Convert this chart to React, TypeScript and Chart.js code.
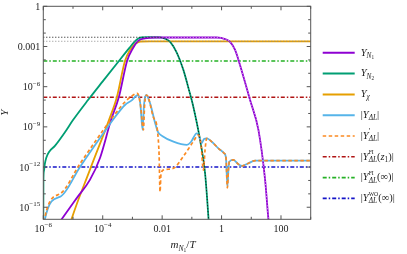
import React, { useEffect, useRef } from 'react';
import { Chart, registerables } from 'chart.js';
Chart.register(...registerables);

// ---------- data ----------
const xN2 = [1.0e-6, 1.01e-6, 1.05e-6, 1.12e-6, 1.26e-6, 1.58e-6, 2.5e-6, 5.0e-6, 1e-5, 3.2e-5, 1e-4, 3.5e-4, 7.9e-4, 1.23e-3, 1.58e-3, 2.0e-3, 3.2e-3, 8.5e-3, 0.0126, 0.0186, 0.0316, 0.0518, 0.079, 0.112, 0.189, 0.278, 0.36, 0.38];
const yN2 = [1e-17, 1e-13, 5.0e-13, 1.6e-12, 5.0e-12, 1.4e-11, 4.0e-11, 3.2e-10, 3.2e-9, 1e-7, 2.5e-6, 8.3e-5, 7.9e-4, 2.5e-3, 4.0e-3, 4.7e-3, 4.9e-3, 4.8e-3, 3.8e-3, 2.2e-3, 3.2e-4, 1.8e-5, 6.3e-7, 3.2e-8, 1.05e-10, 3.6e-13, 2.0e-16, 3.2e-17];

const xNeq = [1e-6, 3.2e-3, 8.5e-3, 0.0126, 0.0186, 0.0316, 0.0518, 0.079, 0.112, 0.189, 0.278, 0.36, 0.38];
const yNeq = [4.9e-3, 4.9e-3, 4.8e-3, 3.8e-3, 2.2e-3, 3.2e-4, 1.8e-5, 6.3e-7, 3.2e-8, 1.05e-10, 3.6e-13, 2.0e-16, 3.2e-17];

const xN1 = [3.55e-6, 4.2e-6, 1.45e-5, 3.7e-5, 8.1e-5, 1.9e-4, 3.5e-4, 6.6e-4, 1.05e-3, 1.55e-3, 2.6e-3, 5.8e-3, 0.19, 0.69, 1.32, 1.93, 2.85, 4.17, 9.1, 17.4, 29.2, 37.7, 39.8];
const yN1 = [7.9e-17, 1.35e-16, 6.2e-15, 1.1e-13, 4.8e-12, 3.2e-9, 1.7e-7, 8.3e-5, 7.8e-4, 2.6e-3, 4.0e-3, 4.7e-3, 4.7e-3, 4.7e-3, 3.6e-3, 2.2e-3, 5.5e-4, 4.2e-5, 1.0e-7, 5.9e-10, 1.1e-13, 1.35e-16, 5e-17];

const xN1eq = [2.6e-3, 0.19, 0.69, 1.32, 1.93, 2.85, 4.17, 9.1, 17.4, 29.2, 37.7, 39.8];
const yN1eq = [4.7e-3, 4.7e-3, 4.7e-3, 3.6e-3, 2.2e-3, 5.5e-4, 4.2e-5, 1.0e-7, 5.9e-10, 1.1e-13, 1.35e-16, 5e-17];

const xChi = [7.9e-6, 9.0e-6, 3.7e-5, 1.62e-4, 3.0e-4, 5.6e-4, 8.3e-4, 1.23e-3, 1.82e-3, 3.9e-3, 1000];
const yChi = [4.8e-17, 1.35e-16, 6.2e-13, 3.2e-9, 1.7e-7, 8.3e-5, 5.5e-4, 1.55e-3, 2.35e-3, 2.45e-3, 2.45e-3];

const xChiEq = [1e-6, 1000];
const yChiEq = [2.45e-3, 2.45e-3];

const xDL = [1.1e-6, 1.14e-6, 3.6e-6, 1.74e-5, 1.05e-4, 2.6e-4, 5.6e-4, 9.7e-4, 1.32e-3, 1.58e-3, 1.86e-3, 2.2e-3, 2.45e-3, 2.9e-3, 3.9e-3, 5.8e-3, 7.2e-3, 0.01, 0.024, 0.068, 0.093, 0.146, 0.174, 0.214, 0.257, 0.316, 0.48, 0.78, 1.22, 1.41, 1.57, 1.7, 1.82, 2.5, 3.6, 4.9, 7.2, 13.5, 29.2, 1000];
const yDL = [1e-17, 1.35e-16, 5.9e-15, 1.07e-12, 3.3e-10, 5.5e-9, 4.3e-8, 1.0e-7, 2.0e-7, 2.4e-7, 4.3e-8, 5.9e-10, 4.3e-8, 2.4e-7, 6.0e-8, 1.95e-9, 4.2e-10, 2.1e-10, 7.9e-11, 4.5e-11, 7.4e-11, 3.3e-10, 2.1e-10, 6.0e-11, 1.26e-10, 1.4e-10, 7.4e-11, 2.5e-11, 1.07e-11, 4.8e-12, 3.5e-14, 6.0e-13, 2.5e-12, 3.4e-12, 1.7e-12, 1.2e-12, 1.7e-12, 3.0e-12, 3.0e-12, 3.0e-12];

const xDLp = [1.05e-6, 1.1e-6, 3.6e-6, 1.74e-5, 1.05e-4, 2.6e-4, 5.6e-4, 9.5e-4, 1.48e-3, 1.86e-3, 2.34e-3, 2.57e-3, 3.0e-3, 5.0e-3, 6.9e-3, 7.9e-3, 8.5e-3, 9.1e-3, 0.011, 0.024, 0.051, 0.112, 0.166, 0.204, 0.245, 0.278, 0.316, 0.48, 0.78, 1.22, 1.41, 1.57, 1.7, 1.82, 2.5, 3.6, 4.9, 7.2, 13.5, 1000];
const yDLp = [1e-17, 1.35e-16, 9.8e-15, 1.86e-12, 5.9e-10, 9.1e-9, 7.2e-8, 2.0e-7, 3.2e-7, 4.3e-8, 5.9e-10, 4.3e-8, 2.4e-7, 5.8e-9, 5.9e-10, 7.9e-12, 1.45e-14, 2.6e-13, 6.0e-13, 8.1e-13, 6.0e-12, 7.9e-11, 2.5e-10, 4.5e-11, 6.0e-13, 1.9e-11, 1.4e-10, 7.4e-11, 2.5e-11, 1.07e-11, 4.8e-12, 2.8e-14, 6.0e-13, 2.5e-12, 3.4e-12, 1.7e-12, 1.2e-12, 1.7e-12, 3.0e-12, 3.0e-12];

const xSpan = [1e-6, 1e3];
const yFIz1 = [1.6e-7, 1.6e-7];
const yFIinf = [8.3e-5, 8.3e-5];
const yWO = [1.0e-12, 1.0e-12];

const xTickExps = [-6, -5, -4, -3, -2, -1, 0, 1, 2, 3];
const xTickLabels: Record<number, string[]> = { '-6': ['10', '−6'], '-4': ['10', '−4'], '-2': ['0.01'], '0': ['1'], '2': ['100'] } as any;
const yTickExps = [-15, -14, -13, -12, -11, -10, -9, -8, -7, -6, -5, -4, -3, -2, -1, 0];
const yTickLabels: Record<number, string[]> = { '0': ['1'], '-3': ['0.001'], '-6': ['10', '−6'], '-9': ['10', '−9'], '-12': ['10', '−12'], '-15': ['10', '−15'] } as any;

// ---------- styles ----------
const SERIF = '"Liberation Serif", "Times New Roman", "DejaVu Serif", serif';
const PURPLE = '#8e00d2';
const GREEN = '#009e73';
const ORANGE = '#e69f00';
const SKY = '#56b4e9';
const DORANGE = '#fb8a22';
const RED = '#b01414';
const LGREEN = '#25b125';
const BLUE = '#1414c8';
const DASHDOT = [4, 2, 1.5, 2];

type Seg = { t: string; it?: boolean; sc?: number; dy?: number; g?: boolean; rw?: boolean };

function drawRich(ctx: CanvasRenderingContext2D, segs: Seg[], x0: number, y: number, size: number, align: 'left' | 'right' | 'center') {
  const fontOf = (s: Seg) => `${s.it ? 'italic ' : ''}${size * (s.sc ?? 1)}px ${SERIF}`;
  let x = 0, gStart = 0, gEnd = 0;
  const out: { s: Seg; x: number }[] = [];
  for (const s of segs) {
    if (s.g) { gStart = x; }
    if (s.rw) { gEnd = x; x = gStart; }
    ctx.font = fontOf(s);
    out.push({ s, x });
    x += ctx.measureText(s.t).width;
    if (s.rw) x = Math.max(x, gEnd);
  }
  const w = x;
  const start = align === 'left' ? x0 : align === 'right' ? x0 - w : x0 - w / 2;
  ctx.textBaseline = 'middle';
  ctx.textAlign = 'left';
  for (const o of out) {
    ctx.font = fontOf(o.s);
    ctx.fillText(o.s.t, start + o.x, y + (o.s.dy ?? 0) * size);
  }
}

const SUB = { sc: 0.7, dy: 0.3 };
const SUP = { sc: 0.7, dy: -0.38 };
const SUBSUB = { sc: 0.5, dy: 0.5 };

const legendItems: { segs: Seg[]; color: string; dash: number[]; width: number }[] = [
  { segs: [{ t: 'Y', it: true }, { t: 'N', it: true, ...SUB }, { t: '1', ...SUBSUB }], color: PURPLE, dash: [], width: 2 },
  { segs: [{ t: 'Y', it: true }, { t: 'N', it: true, ...SUB }, { t: '2', ...SUBSUB }], color: GREEN, dash: [], width: 2 },
  { segs: [{ t: 'Y', it: true }, { t: 'χ', it: true, ...SUB }], color: ORANGE, dash: [], width: 2 },
  { segs: [{ t: '|' }, { t: 'Y', it: true }, { t: 'ΔL', it: true, ...SUB }, { t: '|' }], color: SKY, dash: [], width: 2 },
  { segs: [{ t: '|' }, { t: 'Y', it: true }, { t: '′', ...SUP, g: true }, { t: 'ΔL', it: true, ...SUB, rw: true }, { t: '|' }], color: DORANGE, dash: [3.5, 2.5], width: 1.7 },
  { segs: [{ t: '|' }, { t: 'Y', it: true }, { t: 'FI', ...SUP, sc: 0.55, g: true }, { t: 'ΔL', it: true, ...SUB, rw: true }, { t: '(' }, { t: 'z', it: true }, { t: '1', ...SUB }, { t: ')|' }], color: RED, dash: DASHDOT, width: 1.6 },
  { segs: [{ t: '|' }, { t: 'Y', it: true }, { t: 'FI', ...SUP, sc: 0.55, g: true }, { t: 'ΔL', it: true, ...SUB, rw: true }, { t: '(∞)|' }], color: LGREEN, dash: DASHDOT, width: 1.6 },
  { segs: [{ t: '|' }, { t: 'Y', it: true }, { t: 'WO', ...SUP, sc: 0.55, g: true }, { t: 'ΔL', it: true, ...SUB, rw: true }, { t: '(∞)|' }], color: BLUE, dash: DASHDOT, width: 1.6 },
];

const pts = (xs: number[], ys: number[]) => xs.map((x, i) => ({ x, y: ys[i] }));

const decorPlugin = {
  id: 'decor',
  afterDatasetsDraw(chart: any) {
    const ctx: CanvasRenderingContext2D = chart.ctx;
    const ca = chart.chartArea;
    const xs = chart.scales.x;
    const ys = chart.scales.y;
    ctx.save();
    ctx.strokeStyle = '#555';
    ctx.lineWidth = 1;
    ctx.setLineDash([]);
    ctx.strokeRect(ca.left, ca.top, ca.right - ca.left, ca.bottom - ca.top);
    ctx.fillStyle = '#222';
    for (const e of xTickExps) {
      const px = xs.getPixelForValue(Math.pow(10, e));
      const lab = xTickLabels[e];
      const len = lab ? 4 : 2.5;
      ctx.beginPath();
      ctx.moveTo(px, ca.bottom); ctx.lineTo(px, ca.bottom - len);
      ctx.moveTo(px, ca.top); ctx.lineTo(px, ca.top + len);
      ctx.stroke();
      if (lab) {
        const segs: Seg[] = [{ t: lab[0] }];
        if (lab[1]) segs.push({ t: lab[1], ...SUP });
        drawRich(ctx, segs, px, ca.bottom + 10, 10, 'center');
      }
    }
    for (const e of yTickExps) {
      const py = ys.getPixelForValue(Math.pow(10, e));
      const lab = yTickLabels[e];
      const len = lab ? 4 : 2.5;
      ctx.beginPath();
      ctx.moveTo(ca.left, py); ctx.lineTo(ca.left + len, py);
      ctx.moveTo(ca.right, py); ctx.lineTo(ca.right - len, py);
      ctx.stroke();
      if (lab) {
        const segs: Seg[] = [{ t: lab[0] }];
        if (lab[1]) segs.push({ t: lab[1], ...SUP });
        drawRich(ctx, segs, ca.left - 3, py + 1, 10, 'right');
      }
    }
    drawRich(ctx, [{ t: 'm', it: true }, { t: 'N', it: true, ...SUB }, { t: '1', ...SUBSUB }, { t: '/' }, { t: 'T', it: true }], (ca.left + ca.right) / 2 + 6, ca.bottom + 26, 11, 'center');
    ctx.save();
    ctx.translate(ca.left - 38, (ca.top + ca.bottom) / 2);
    ctx.rotate(-Math.PI / 2);
    drawRich(ctx, [{ t: 'Y', it: true }], 0, 0, 11, 'center');
    ctx.restore();
    const lx0 = ca.right + 12, lx1 = ca.right + 44, tx = ca.right + 50;
    legendItems.forEach((it, i) => {
      const y = ca.top + 46.5 + i * 20.8;
      ctx.strokeStyle = it.color;
      ctx.lineWidth = it.width;
      ctx.setLineDash(it.dash);
      ctx.beginPath();
      ctx.moveTo(lx0, y); ctx.lineTo(lx1, y);
      ctx.stroke();
      ctx.setLineDash([]);
      ctx.fillStyle = '#222';
      drawRich(ctx, it.segs, tx, y, 10.5, 'left');
    });
    ctx.restore();
  },
};

export default function App() {
  const ref = useRef<HTMLCanvasElement | null>(null);
  useEffect(() => {
    if (!ref.current) return;
    const line = (data: any, color: string, width: number, dash: number[], order: number, mono = true) => ({
      data, borderColor: color, borderWidth: width, borderDash: dash, pointRadius: 0, fill: false,
      order, clip: 0, cubicInterpolationMode: mono ? 'monotone' : 'default', tension: 0,
    });
    const chart = new Chart(ref.current, {
      type: 'line',
      data: {
        datasets: [
          line(pts(xSpan, yFIz1), RED, 1.5, DASHDOT, 20, false),
          line(pts(xSpan, yFIinf), LGREEN, 1.5, DASHDOT, 21, false),
          line(pts(xSpan, yWO), BLUE, 1.5, DASHDOT, 22, false),
          line(pts(xChi, yChi), ORANGE, 1.8, [], 10),
          line(pts(xN2, yN2), GREEN, 1.8, [], 9),
          line(pts(xN1, yN1), PURPLE, 1.8, [], 8),
          line(pts(xDL, yDL), SKY, 1.8, [], 7),
          line(pts(xDLp, yDLp), DORANGE, 1.7, [3.5, 2.5], 6),
          line(pts(xN1eq, yN1eq), '#e2a6f2', 1, [1, 2], 3),
          line(pts(xChiEq, yChiEq), '#8a8a8a', 1, [1, 2], 2, false),
          line(pts(xNeq, yNeq), '#111', 1, [1, 2], 1),
        ] as any,
      },
      options: {
        animation: false,
        responsive: false,
        events: [],
        layout: { padding: { left: 43.3, right: 96.3, top: 6.3, bottom: 34.7 } },
        scales: {
          x: { type: 'logarithmic', min: 1e-6, max: 1e3, display: false },
          y: { type: 'logarithmic', min: 1.26e-16, max: 1, display: false },
        },
        plugins: { legend: { display: false }, tooltip: { enabled: false } },
      } as any,
      plugins: [decorPlugin],
    });
    return () => chart.destroy();
  }, []);
  return (
    <div style={{ position: 'absolute', left: 0, top: 0, width: 407, height: 254, background: '#fff' }}>
      <canvas ref={ref} width={407} height={254} style={{ display: 'block' }} />
    </div>
  );
}
